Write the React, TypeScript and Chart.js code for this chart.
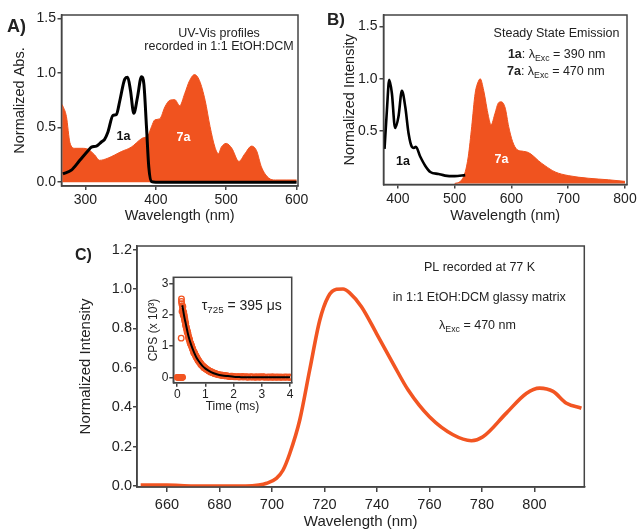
import React, { useEffect, useRef } from 'react';
import { Chart, registerables } from 'chart.js';

Chart.register(...registerables);

const FONT = '"Liberation Sans", Arial, Helvetica, sans-serif';
const ORANGE = '#F0531F';
const LINE_ORANGE = '#F25522';
const AXIS = '#444444';
const TEXT = '#222222';

// ---------- Panel A: UV-Vis ----------
const a1aX = [268, 280, 292, 304, 308.5, 315.6, 323, 327, 332, 339, 344, 349, 356, 360, 364, 368.7, 374, 379.6, 383, 386.7, 390, 394, 400, 420, 450, 480, 510, 540, 570, 600];
const a1aY = [0.075, 0.11, 0.2, 0.29, 0.32, 0.33, 0.37, 0.39, 0.46, 0.61, 0.62, 0.75, 0.945, 0.96, 0.84, 0.63, 0.78, 0.965, 0.9, 0.51, 0.14, 0.005, 0.0, 0.0, 0.0, 0.0, 0.0, 0.0, 0.0, 0.0];
const a7aX = [267, 273, 278, 285, 295, 304, 313, 320, 332, 351, 365, 380, 389, 394, 398.5, 405.6, 413, 420, 427, 434, 441, 448, 455, 462, 470, 477, 484, 489, 493, 500, 508, 518, 526.5, 536, 543, 550, 560, 570, 585, 600];
const a7aY = [0.71, 0.6, 0.36, 0.31, 0.31, 0.3, 0.25, 0.2, 0.22, 0.28, 0.32, 0.4, 0.43, 0.51, 0.57, 0.58, 0.69, 0.75, 0.755, 0.7, 0.81, 0.93, 0.985, 0.93, 0.75, 0.51, 0.32, 0.26, 0.32, 0.355, 0.31, 0.19, 0.26, 0.33, 0.29, 0.14, 0.04, 0.02, 0.02, 0.02];
const aXTicks = [300, 400, 500, 600];
const aYTicks = [0, 0.5, 1.0, 1.5];

// ---------- Panel B: steady-state emission ----------
const b1aX = [376.4, 380.6, 384.7, 389.4, 395, 401, 407, 413, 418.7, 424.6, 428, 431.6, 439, 448, 457, 471.6, 483, 500, 518.5];
const b1aY = [0.33, 0.7, 0.99, 0.86, 0.53, 0.64, 0.885, 0.73, 0.48, 0.35, 0.34, 0.35, 0.26, 0.17, 0.11, 0.09, 0.075, 0.07, 0.08];
const b7aX = [500, 510, 518, 524, 530, 536, 542, 545, 551, 559.5, 564, 571, 577, 582, 589, 595, 602, 609.5, 618, 630, 639, 648, 659, 677, 700, 735, 771, 800];
const b7aY = [0.0, 0.02, 0.1, 0.26, 0.545, 0.86, 0.98, 1.0, 0.89, 0.64, 0.56, 0.67, 0.77, 0.78, 0.72, 0.545, 0.4, 0.325, 0.31, 0.295, 0.26, 0.215, 0.17, 0.11, 0.075, 0.05, 0.035, 0.02];
const bXTicks = [400, 500, 600, 700, 800];
const bYTicks = [0.5, 1.0, 1.5];

// ---------- Panel C: PL at 77 K ----------
const cX = [650, 660, 670, 680, 690, 695, 698, 701.7, 704.2, 706.8, 710.6, 714.4, 718.2, 721.4, 724.6, 727.1, 729.6, 734.1, 739.8, 746.2, 751.9, 760.1, 769, 776, 780.4, 789.3, 796.9, 802, 807.1, 812.2, 817.9];
const cY = [0.005, 0.005, 0.0, 0.0, 0.0, 0.005, 0.014, 0.039, 0.08, 0.165, 0.335, 0.59, 0.84, 0.96, 0.998, 1.0, 0.98, 0.91, 0.775, 0.62, 0.487, 0.35, 0.26, 0.23, 0.25, 0.37, 0.47, 0.497, 0.48, 0.42, 0.395];
const cXTicks = [660, 680, 700, 720, 740, 760, 780, 800];
const cYTicks = [0, 0.2, 0.4, 0.6, 0.8, 1.0, 1.2];

// ---------- Inset: decay ----------
const tScatter = [0.0, 0.02, 0.04, 0.05, 0.07, 0.08, 0.1, 0.11, 0.12, 0.13, 0.15, 0.16, 0.17, 0.19, 0.15, 0.15, 0.14, 0.16, 0.17,
  0.18, 0.2, 0.22, 0.24, 0.26, 0.28, 0.3, 0.33, 0.36, 0.39, 0.42, 0.45, 0.48, 0.52, 0.56, 0.6, 0.64, 0.68, 0.72, 0.76, 0.8, 0.85, 0.9, 0.95, 1.0, 1.06, 1.12, 1.18, 1.25, 1.32, 1.4, 1.5, 1.6, 1.7, 1.8, 1.9, 2.0, 2.15, 2.3, 2.45, 2.6, 2.75, 2.9, 3.05, 3.2, 3.35, 3.5, 3.65, 3.8, 3.95,
  0.19, 0.21, 0.23, 0.25, 0.27, 0.29, 0.31, 0.34, 0.37, 0.4, 0.43, 0.46, 0.5, 0.54, 0.58, 0.62, 0.66, 0.7, 0.74, 0.78, 0.83, 0.88, 0.93, 0.98, 1.03, 1.09, 1.15, 1.22, 1.29, 1.36, 1.45, 1.55, 1.65, 1.75, 1.85, 1.95, 2.08, 2.22, 2.38, 2.52, 2.68, 2.82, 2.98, 3.12, 3.28, 3.42, 3.58, 3.72, 3.88, 4.0,
  0.2, 0.22, 0.25, 0.27, 0.3, 0.32, 0.35, 0.38, 0.41, 0.44, 0.47, 0.51, 0.55, 0.59, 0.63, 0.67, 0.71, 0.75, 0.79, 0.84, 0.89, 0.94, 0.99, 1.05, 1.11, 1.17, 1.24, 1.31, 1.38, 1.47, 1.57, 1.68, 1.78, 1.88, 2.02, 2.18, 2.33, 2.48, 2.63, 2.78, 2.93, 3.08, 3.23, 3.38, 3.53, 3.68, 3.83, 3.98];
const cpsScatter = [0, 0, 0, 0, 0, 0, 0, 0, 0, 0, 0, 0, 0, 0, 2.5, 2.42, 1.25, 2.35, 2.1,
  2.28, 2.12, 2.05, 1.96, 1.85, 1.78, 1.72, 1.55, 1.47, 1.33, 1.25, 1.13, 1.08, 0.96, 0.87, 0.8, 0.71, 0.66, 0.57, 0.53, 0.47, 0.42, 0.36, 0.33, 0.29, 0.25, 0.21, 0.19, 0.15, 0.13, 0.1, 0.08, 0.07, 0.05, 0.04, 0.04, 0.03, 0.02, 0.03, 0.01, 0.02, 0.01, 0.0, 0.02, 0.01, 0.0, 0.01, 0.0, 0.01, 0.0,
  2.2, 2.0, 2.08, 1.9, 1.8, 1.7, 1.62, 1.52, 1.42, 1.3, 1.2, 1.1, 1.02, 0.92, 0.82, 0.76, 0.68, 0.62, 0.55, 0.5, 0.44, 0.38, 0.34, 0.3, 0.27, 0.23, 0.2, 0.17, 0.14, 0.12, 0.09, 0.08, 0.06, 0.05, 0.03, 0.04, 0.02, 0.01, 0.02, 0.0, 0.01, 0.02, 0.01, 0.0, 0.01, 0.0, 0.01, 0.0, 0.01, 0.0,
  2.25, 1.98, 1.98, 1.86, 1.66, 1.6, 1.45, 1.4, 1.24, 1.19, 1.06, 1.0, 0.9, 0.78, 0.74, 0.64, 0.6, 0.52, 0.48, 0.4, 0.37, 0.31, 0.28, 0.24, 0.21, 0.17, 0.16, 0.12, 0.11, 0.08, 0.06, 0.05, 0.04, 0.03, 0.02, 0.02, 0.01, 0.02, 0.01, 0.0, 0.02, 0.01, 0.0, 0.02, 0.0, 0.01, 0.0, 0.01];
const tFit = [0.18, 0.25, 0.3, 0.4, 0.5, 0.6, 0.7, 0.8, 0.9, 1.0, 1.2, 1.4, 1.6, 1.8, 2.0, 2.2, 2.5, 3.0, 3.5, 4.0];
const cpsFit = [2.3, 1.93, 1.72, 1.31, 1.02, 0.79, 0.6, 0.47, 0.36, 0.28, 0.17, 0.1, 0.06, 0.04, 0.02, 0.01, 0.0, 0.0, 0.0, 0.0];
const insetXTicks = [0, 1, 2, 3, 4];
const insetYTicks = [0, 1, 2, 3];

const pts = (xs: number[], ys: number[]) => xs.map((x, i) => ({ x, y: ys[i] }));

type Seg = { t: string; b?: boolean; sub?: boolean };
type TextItem = { segs: Seg[]; x: number; y: number; size: number; align?: 'left' | 'center' | 'right'; color?: string };

function drawRich(ctx: CanvasRenderingContext2D, it: TextItem) {
  const fontFor = (s: Seg) => `${s.b ? 'bold ' : ''}${s.sub ? it.size * 0.7 : it.size}px ${FONT}`;
  let total = 0;
  for (const s of it.segs) {
    ctx.font = fontFor(s);
    total += ctx.measureText(s.t).width;
  }
  let cx = it.align === 'center' ? it.x - total / 2 : it.align === 'right' ? it.x - total : it.x;
  ctx.textAlign = 'left';
  ctx.textBaseline = 'alphabetic';
  ctx.fillStyle = it.color || TEXT;
  for (const s of it.segs) {
    ctx.font = fontFor(s);
    ctx.fillText(s.t, cx, it.y + (s.sub ? it.size * 0.28 : 0));
    cx += ctx.measureText(s.t).width;
  }
}

function overlay(texts: TextItem[]) {
  return {
    id: 'overlay',
    afterDraw(chart: any) {
      const { ctx, chartArea: ca } = chart;
      ctx.save();
      ctx.strokeStyle = AXIS;
      ctx.lineWidth = 1.5;
      ctx.strokeRect(ca.left, ca.top, ca.right - ca.left, ca.bottom - ca.top);
      texts.forEach((t) => drawRich(ctx, t));
      ctx.restore();
    },
  };
}

type AxisOpts = {
  min: number; max: number; ticks: number[]; fmt: (v: number) => string;
  size: number; fit: number; horizontal: boolean; title: string; titleSize: number;
  titlePad: any; tickPad: number; tickLen: number;
};

function axis(o: AxisOpts) {
  return {
    type: 'linear',
    min: o.min,
    max: o.max,
    afterBuildTicks: (s: any) => { s.ticks = o.ticks.map((v) => ({ value: v })); },
    afterFit: (s: any) => {
      if (o.horizontal) { s.height = o.fit; s.paddingLeft = 0; s.paddingRight = 0; }
      else { s.width = o.fit; s.paddingTop = 0; s.paddingBottom = 0; }
    },
    grid: { display: true, drawOnChartArea: false, drawTicks: true, tickLength: o.tickLen, color: AXIS, lineWidth: 1.5 },
    border: { display: true, color: AXIS, width: 1.5 },
    ticks: {
      font: { family: FONT, size: o.size }, color: TEXT, padding: o.tickPad,
      maxRotation: 0, minRotation: 0, autoSkip: false,
      callback: (v: any) => o.fmt(Number(v)),
    },
    title: { display: true, text: o.title, font: { family: FONT, size: o.titleSize }, color: TEXT, padding: o.titlePad },
  };
}

const base = (padding: any) => ({
  responsive: false,
  maintainAspectRatio: false,
  animation: false,
  events: [],
  layout: { padding },
  plugins: { legend: { display: false }, tooltip: { enabled: false } },
  elements: { point: { radius: 0 } },
});

const f1 = (v: number) => v.toFixed(1);
const f0 = (v: number) => String(Math.round(v));

export default function App() {
  const refA = useRef<HTMLCanvasElement>(null);
  const refB = useRef<HTMLCanvasElement>(null);
  const refC = useRef<HTMLCanvasElement>(null);
  const refI = useRef<HTMLCanvasElement>(null);

  useEffect(() => {
    const charts: Chart[] = [];

    // Panel A
    charts.push(new Chart(refA.current!, {
      type: 'line',
      data: {
        datasets: [
          { data: pts(a1aX, a1aY), borderColor: '#000', borderWidth: 3, fill: false, pointRadius: 0, cubicInterpolationMode: 'monotone' },
          { data: pts(a7aX, a7aY), borderColor: ORANGE, borderWidth: 1, backgroundColor: ORANGE, fill: 'origin', pointRadius: 0, cubicInterpolationMode: 'monotone' },
        ],
      } as any,
      options: {
        ...base({ top: 15, right: 22, left: 0, bottom: 0 }),
        scales: {
          x: axis({ min: 266, max: 602, ticks: aXTicks, fmt: f0, size: 14, fit: 42, horizontal: true, title: 'Wavelength (nm)', titleSize: 14.5, titlePad: { top: 0, bottom: 3.3 }, tickPad: 2, tickLen: 4 }),
          y: axis({ min: -0.035, max: 1.53, ticks: aYTicks, fmt: f1, size: 14, fit: 61.5, horizontal: false, title: 'Normalized Abs.', titleSize: 14.5, titlePad: { top: 11.3, bottom: 0 }, tickPad: 1.5, tickLen: 4 }),
        },
      } as any,
      plugins: [overlay([
        { segs: [{ t: 'A)', b: true }], x: 7, y: 31.5, size: 18 },
        { segs: [{ t: 'UV-Vis profiles' }], x: 219, y: 36.5, size: 12.5, align: 'center' },
        { segs: [{ t: 'recorded in 1:1 EtOH:DCM' }], x: 219, y: 49.5, size: 12.5, align: 'center' },
        { segs: [{ t: '1a', b: true }], x: 123.5, y: 139.7, size: 12.5, align: 'center', color: '#111' },
        { segs: [{ t: '7a', b: true }], x: 183.5, y: 140.7, size: 12.5, align: 'center', color: '#ffffff' },
      ])] as any,
    }));

    // Panel B
    charts.push(new Chart(refB.current!, {
      type: 'line',
      data: {
        datasets: [
          { data: pts(b1aX, b1aY), borderColor: '#000', borderWidth: 2.6, fill: false, pointRadius: 0, cubicInterpolationMode: 'monotone' },
          { data: pts(b7aX, b7aY), borderColor: ORANGE, borderWidth: 1, backgroundColor: ORANGE, fill: 'origin', pointRadius: 0, cubicInterpolationMode: 'monotone' },
        ],
      } as any,
      options: {
        ...base({ top: 15, right: 11, left: 0, bottom: 0 }),
        scales: {
          x: axis({ min: 374.6, max: 803.5, ticks: bXTicks, fmt: f0, size: 14, fit: 43.5, horizontal: true, title: 'Wavelength (nm)', titleSize: 14.5, titlePad: { top: 0, bottom: 3.3 }, tickPad: 2, tickLen: 4 }),
          y: axis({ min: -0.01, max: 1.61, ticks: bYTicks, fmt: f1, size: 14, fit: 63.5, horizontal: false, title: 'Normalized Intensity', titleSize: 14.5, titlePad: { top: 21.3, bottom: 0 }, tickPad: 2, tickLen: 4 }),
        },
      } as any,
      plugins: [overlay([
        { segs: [{ t: 'B)', b: true }], x: 7, y: 25, size: 17 },
        { segs: [{ t: 'Steady State Emission' }], x: 236.5, y: 36.5, size: 12.5, align: 'center' },
        { segs: [{ t: '1a', b: true }, { t: ': λ' }, { t: 'Exc', sub: true }, { t: ' = 390 nm' }], x: 236.7, y: 57.5, size: 12.5, align: 'center' },
        { segs: [{ t: '7a', b: true }, { t: ': λ' }, { t: 'Exc', sub: true }, { t: ' = 470 nm' }], x: 235.8, y: 74.5, size: 12.5, align: 'center' },
        { segs: [{ t: '1a', b: true }], x: 83, y: 164.5, size: 12.5, align: 'center', color: '#111' },
        { segs: [{ t: '7a', b: true }], x: 181.5, y: 162.5, size: 12.5, align: 'center', color: '#ffffff' },
      ])] as any,
    }));

    // Panel C
    charts.push(new Chart(refC.current!, {
      type: 'line',
      data: {
        datasets: [
          { data: pts(cX, cY), borderColor: LINE_ORANGE, borderWidth: 3.6, fill: false, pointRadius: 0, cubicInterpolationMode: 'monotone' },
        ],
      } as any,
      options: {
        ...base({ top: 18, right: 53.7, left: 0, bottom: 0 }),
        scales: {
          x: axis({ min: 648.6, max: 819, ticks: cXTicks, fmt: f0, size: 14.5, fit: 44, horizontal: true, title: 'Wavelength (nm)', titleSize: 15, titlePad: { top: 0, bottom: 0 }, tickPad: 4.3, tickLen: 5 }),
          y: axis({ min: -0.005, max: 1.218, ticks: cYTicks, fmt: f1, size: 14.5, fit: 77, horizontal: false, title: 'Normalized Intensity', titleSize: 15, titlePad: { top: 17, bottom: 0 }, tickPad: 1, tickLen: 4 }),
        },
      } as any,
      plugins: [overlay([
        { segs: [{ t: 'C)', b: true }], x: 15, y: 32.2, size: 16 },
        { segs: [{ t: 'PL recorded at 77 K' }], x: 419.5, y: 43.2, size: 12.5, align: 'center' },
        { segs: [{ t: 'in 1:1 EtOH:DCM glassy matrix' }], x: 419.3, y: 72.5, size: 12.5, align: 'center' },
        { segs: [{ t: 'λ' }, { t: 'Exc', sub: true }, { t: ' = 470 nm' }], x: 417.5, y: 100.5, size: 12.5, align: 'center' },
      ])] as any,
    }));

    // Inset
    charts.push(new Chart(refI.current!, {
      type: 'scatter',
      data: {
        datasets: [
          { type: 'line', data: pts(tFit, cpsFit), borderColor: '#000', borderWidth: 2, fill: false, pointRadius: 0, showLine: true, cubicInterpolationMode: 'monotone' },
          { data: pts(tScatter, cpsScatter), borderColor: LINE_ORANGE, backgroundColor: 'rgba(0,0,0,0)', borderWidth: 1.3, pointRadius: 2.8, pointStyle: 'circle' },
        ],
      } as any,
      options: {
        ...base({ top: 7.3, right: 8.3, left: 0, bottom: 0 }),
        elements: { point: { radius: 2.8 } },
        scales: {
          x: axis({ min: -0.14, max: 4.06, ticks: insetXTicks, fmt: f0, size: 12, fit: 37.3, horizontal: true, title: 'Time (ms)', titleSize: 12, titlePad: { top: 0, bottom: 6.2 }, tickPad: 0.8, tickLen: 4 }),
          y: axis({ min: -0.17, max: 3.19, ticks: insetYTicks, fmt: f0, size: 12, fit: 33.3, horizontal: false, title: 'CPS (x 10³)', titleSize: 12, titlePad: { top: 6.8, bottom: 0 }, tickPad: 1, tickLen: 4 }),
        },
      } as any,
      plugins: [overlay([
        { segs: [{ t: 'τ' }, { t: '725', sub: true }, { t: ' = 395 μs' }], x: 61.7, y: 39.5, size: 14 },
      ])] as any,
    }));

    return () => charts.forEach((c) => c.destroy());
  }, []);

  const abs = (l: number, t: number, w: number, h: number): React.CSSProperties => ({
    position: 'absolute', left: l, top: t, width: w, height: h, display: 'block',
  });

  return (
    <div style={{ position: 'fixed', left: 0, top: 0, width: 638, height: 531, background: '#ffffff', overflow: 'hidden' }}>
      <canvas ref={refA} width={320} height={228} style={abs(0, 0, 320, 228)} />
      <canvas ref={refB} width={318} height={228} style={abs(320, 0, 318, 228)} />
      <canvas ref={refC} width={578} height={303} style={abs(60, 228, 578, 303)} />
      <canvas ref={refI} width={160} height={150} style={abs(140, 270, 160, 150)} />
    </div>
  );
}
